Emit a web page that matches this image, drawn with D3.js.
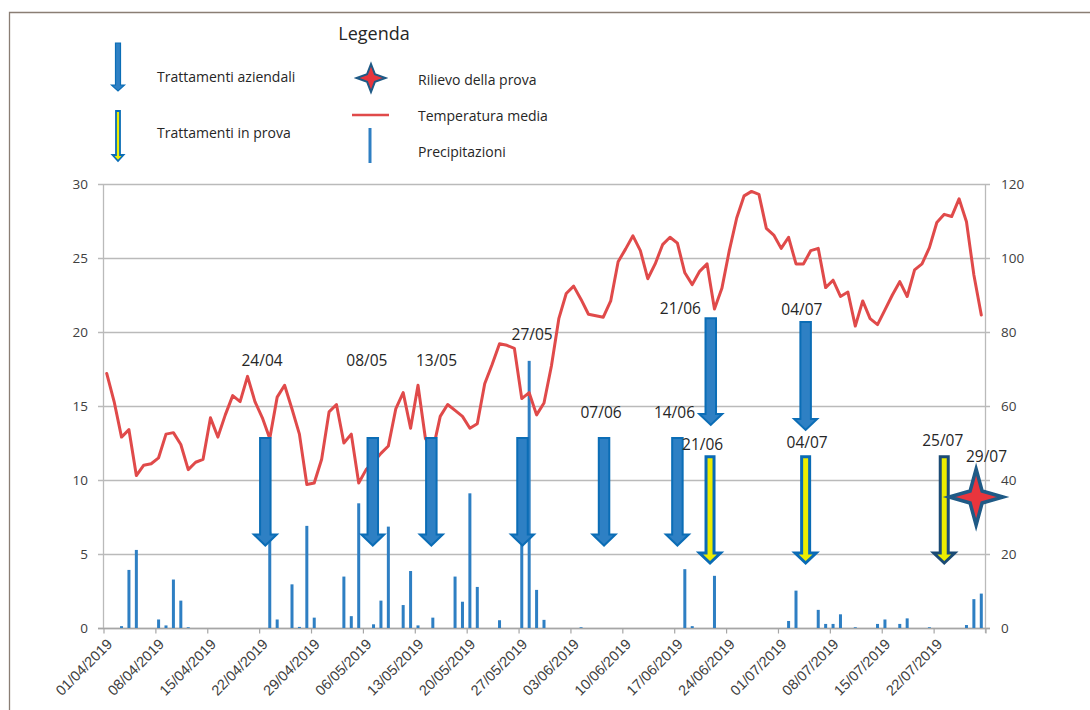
<!DOCTYPE html>
<html><head><meta charset="utf-8">
<script src="https://cdn.jsdelivr.net/npm/d3@7"></script>
<style>
html,body{margin:0;padding:0;background:#fff;}
svg{display:block;font-family:"Open Sans",sans-serif;}
</style></head><body>
<svg id="chart" width="1090" height="710"></svg>
<script>
// ---------------- DATA ----------------
const startDay = "01/04/2019";
const endDay = "29/07/2019";
// daily mean temperature (°C), 01/04 .. 28/07
const temperature = [
 17.2,15.3,12.9,13.4,10.3,11.0,11.1,11.5,13.1,13.2,
 12.4,10.7,11.2,11.4,14.2,12.9,14.4,15.7,15.3,17.0,
 15.3,14.2,12.8,15.6,16.4,14.8,13.1,9.7,9.8,11.4,
 14.6,15.1,12.5,13.1,9.8,10.7,11.2,11.8,12.3,14.8,
 15.9,13.5,16.4,12.8,12.0,14.3,15.1,14.7,14.3,13.5,
 13.8,16.5,17.8,19.2,19.1,18.9,15.5,15.9,14.4,15.2,
 17.7,20.9,22.6,23.1,22.2,21.2,21.1,21.0,22.1,24.75,
 25.6,26.5,25.5,23.6,24.6,25.9,26.4,26.0,24.0,23.2,
 24.1,24.6,21.55,22.95,25.5,27.7,29.2,29.5,29.3,27.0,
 26.55,25.65,26.4,24.6,24.6,25.5,25.65,23.0,23.5,22.4,
 22.7,20.4,22.1,20.9,20.5,21.5,22.5,23.4,22.4,24.2,
 24.6,25.7,27.4,27.95,27.8,29.0,27.45,23.85,21.15
];
// daily precipitation (mm), 01/04 .. 28/07
const precipitation = [
 0,0,0.5,15.7,21.1,0,0,2.3,0.7,13.1,
 7.4,0.2,0,0,0,0,0,0,0,0,
 0,0,26,2.3,0,11.8,0.3,27.6,2.8,0,
 0,0,13.9,3.2,33.7,0,1.0,7.4,27.4,0,
 6.2,15.4,0.7,0,2.8,0,0,13.9,7.1,36.4,
 11.1,0,0,2.1,0,0,28,72.2,10.3,2.2,
 0,0,0,0,0.2,0,0,0,0,0,
 0,0,0,0,0,0,0,0,15.9,0.5,
 0,0,14.1,0,0,0,0,0,0,0,
 0,0,1.9,10.1,0,0,4.9,1.1,1.1,3.7,
 0,0.2,0,0,1.1,2.3,0,1.1,2.6,0,
 0,0.2,0,0,0,0,0.8,7.8,9.3
];
const xTickLabels = ["01/04/2019","08/04/2019","15/04/2019","22/04/2019","29/04/2019",
 "06/05/2019","13/05/2019","20/05/2019","27/05/2019","03/06/2019","10/06/2019",
 "17/06/2019","24/06/2019","01/07/2019","08/07/2019","15/07/2019","22/07/2019"];
const tempTicks = [0,5,10,15,20,25,30];
const rainTicks = [0,20,40,60,80,100,120];
const farmTreatments = ["24/04","08/05","13/05","27/05","07/06","14/06","21/06","04/07"];
const trialTreatments = ["21/06","04/07","25/07"];
const surveyDates = ["29/07"];
const legendTitle = "Legenda";
const legendLabels = ["Trattamenti aziendali","Trattamenti in prova","Rilievo della prova","Temperatura media","Precipitazioni"];

// -------------- LAYOUT (axis units: day offset, °C) --------------
const farmLayout = [
 {u:21.9, top:12.84, tip:5.57, lu:21.46, lt:18.04},
 {u:36.4, top:12.84, tip:5.57, lu:35.6,  lt:18.04},
 {u:44.3, top:12.84, tip:5.57, lu:45.0,  lt:18.04},
 {u:56.6, top:12.84, tip:5.57, lu:57.9,  lt:19.8},
 {u:67.6, top:12.84, tip:5.57, lu:67.2,  lt:14.55},
 {u:77.5, top:12.84, tip:5.57, lu:77.1,  lt:14.55},
 {u:82.0, top:20.93, tip:13.72, lu:77.9, lt:21.6},
 {u:94.8, top:20.68, tip:13.38, lu:94.3, lt:21.5}
];
const trialLayout = [
 {u:81.9, top:11.57, tip:4.39, lu:80.9, lt:12.4, stroke:"#0a6bb5"},
 {u:94.8, top:11.57, tip:4.39, lu:95.0, lt:12.5, stroke:"#0a6bb5"},
 {u:113.5, top:11.57, tip:4.39, lu:113.3, lt:12.65, stroke:"#1b4b75"}
];
const surveyLayout = [{u:117.8, t:8.85, lu:119.2, lt:11.6}];

// ---------------- DRAW ----------------
const svg = d3.select("#chart");
const parse = d3.timeParse("%d/%m/%Y");
const t0 = parse(startDay), t1 = parse(endDay);
const nDays = d3.timeDay.count(t0, t1);
const dates = d3.range(temperature.length).map(i => d3.timeDay.offset(t0, i));

const L = 103, R = 985, T = 184, B = 628;
const x = d3.scaleTime().domain([t0, t1]).range([L, R]);
const xu = d3.scaleLinear().domain([0, nDays]).range([L, R]);
const yT = d3.scaleLinear().domain([0, 30]).range([B, T]);
const yP = d3.scaleLinear().domain([0, 120]).range([B, T]);
const dayW = xu(1) - xu(0);
const mid = d => x(d) + dayW / 2;

// frame
svg.append("path").attr("d", `M9.5,711 V12.5 H1091`).attr("fill","none")
  .attr("stroke","#8a7e74").attr("stroke-width",1.3);

// gridlines
svg.append("g").selectAll("line").data(tempTicks).join("line")
  .attr("x1", L - 5).attr("x2", R + 5)
  .attr("y1", d => yT(d) + 0.5).attr("y2", d => yT(d) + 0.5)
  .attr("stroke", "#bababa").attr("stroke-width", 1.3);

// axes lines
svg.append("line").attr("x1", L + 0.5).attr("x2", L + 0.5).attr("y1", T).attr("y2", B)
  .attr("stroke", "#bababa").attr("stroke-width", 1.3);
svg.append("line").attr("x1", R + 0.5).attr("x2", R + 0.5).attr("y1", T).attr("y2", B + 5)
  .attr("stroke", "#bababa").attr("stroke-width", 1.3);
svg.append("line").attr("x1", L - 5).attr("x2", R + 5).attr("y1", B + 0.5).attr("y2", B + 0.5)
  .attr("stroke", "#a6a6a6").attr("stroke-width", 1.3);

// axes via d3
const xTicks = xTickLabels.map(parse);
const xAxis = svg.append("g").attr("transform", `translate(0,${B + 0.5})`)
  .call(d3.axisBottom(x).tickValues(xTicks.concat([t1])).tickSize(5).tickFormat(d => {
    const i = xTicks.findIndex(t => +t === +d);
    return i >= 0 ? xTickLabels[i] : "";
  }));
xAxis.select(".domain").remove();
xAxis.selectAll(".tick line").attr("stroke", "#a6a6a6").attr("stroke-width", 1.2).attr("transform","translate(0.5,0)");
xAxis.selectAll(".tick text")
  .attr("font-size", 14.5).attr("fill", "#404040")
  .attr("text-anchor", "end").attr("dy", "0.35em")
  .attr("transform", "translate(6,13) rotate(-45)").attr("y", 0).attr("x", 0);

const yAxisL = svg.append("g").attr("transform", `translate(${L},0.5)`)
  .call(d3.axisLeft(yT).tickValues(tempTicks).tickSize(0).tickPadding(15));
yAxisL.select(".domain").remove();
yAxisL.selectAll("text").attr("font-size", 13.5).attr("fill", "#404040").attr("font-family", "Open Sans");

const yAxisR = svg.append("g").attr("transform", `translate(${R},0.5)`)
  .call(d3.axisRight(yP).tickValues(rainTicks).tickSize(0).tickPadding(16));
yAxisR.select(".domain").remove();
yAxisR.selectAll("text").attr("font-size", 13.5).attr("fill", "#404040").attr("font-family", "Open Sans");

// precipitation bars
const barW = 3;
svg.append("g").selectAll("rect").data(precipitation.map((p, i) => ({p, d: dates[i]})).filter(o => o.p > 0))
  .join("rect")
  .attr("x", o => mid(o.d) - barW / 2).attr("width", barW)
  .attr("y", o => yP(o.p)).attr("height", o => B - yP(o.p))
  .attr("fill", "#2e7fc3");

// temperature line
const line = d3.line().x((v, i) => mid(dates[i])).y(v => yT(v));
svg.append("path").datum(temperature).attr("d", line)
  .attr("fill", "none").attr("stroke", "#e04a4a").attr("stroke-width", 3)
  .attr("stroke-linejoin", "round").attr("stroke-linecap", "round");

// arrow helper
function arrowPath(cx, top, tip, sw, hw, hh) {
  const p = d3.path();
  p.moveTo(cx - sw / 2, top); p.lineTo(cx + sw / 2, top);
  p.lineTo(cx + sw / 2, tip - hh); p.lineTo(cx + hw / 2, tip - hh);
  p.lineTo(cx, tip); p.lineTo(cx - hw / 2, tip - hh);
  p.lineTo(cx - sw / 2, tip - hh); p.closePath();
  return p.toString();
}
function starPath(cx, cy, rx, ry, ri) {
  const p = d3.path();
  const pts = [];
  for (let k = 0; k < 8; k++) {
    const a = -Math.PI / 2 + k * Math.PI / 4;
    const outer = k % 2 === 0;
    const rX = outer ? rx : ri, rY = outer ? ry : ri;
    pts.push([cx + rX * Math.cos(a), cy + rY * Math.sin(a)]);
  }
  pts.forEach((q, i) => i ? p.lineTo(q[0], q[1]) : p.moveTo(q[0], q[1]));
  p.closePath();
  return p.toString();
}

const lbl = (g, text, xx, yy, fs) => g.append("text").attr("x", xx).attr("y", yy)
  .attr("text-anchor", "middle").attr("dy", "0.35em").attr("font-size", fs)
  .attr("fill", "#262626").text(text);

// farm treatments
const gA = svg.append("g");
farmTreatments.forEach((name, i) => {
  const a = farmLayout[i];
  gA.append("path").attr("d", arrowPath(xu(a.u), yT(a.top), yT(a.tip), 10.5, 23, 11))
    .attr("fill", "#2e80c4").attr("stroke", "#0b6db6").attr("stroke-width", 2)
    .attr("stroke-linejoin", "miter");
  lbl(gA, name, xu(a.lu), yT(a.lt), 15.5);
});
// trial treatments
trialTreatments.forEach((name, i) => {
  const a = trialLayout[i];
  gA.append("path").attr("d", arrowPath(xu(a.u), yT(a.top), yT(a.tip), 8, 21, 10))
    .attr("fill", "#eded00").attr("stroke", a.stroke).attr("stroke-width", 3)
    .attr("stroke-linejoin", "miter");
  lbl(gA, name, xu(a.lu), yT(a.lt), 15.5);
});
// survey
surveyDates.forEach((name, i) => {
  const s = surveyLayout[i];
  gA.append("path").attr("d", starPath(xu(s.u), yT(s.t), 27, 28, 8.5))
    .attr("fill", "#e8353d").attr("stroke", "#1f5a86").attr("stroke-width", 3.5)
    .attr("stroke-linejoin", "miter").attr("stroke-miterlimit", 10);
  lbl(gA, name, xu(s.lu), yT(s.lt), 15.5);
});

// legend
const lg = svg.append("g");
lg.append("text").attr("x", 374).attr("y", 34).attr("dy", "0.35em").attr("text-anchor", "middle")
  .attr("font-size", 18).attr("fill", "#262626").text(legendTitle);
lg.append("path").attr("d", arrowPath(118, 43, 91, 5, 13, 6))
  .attr("fill", "#2e80c4").attr("stroke", "#0b6db6").attr("stroke-width", 1.2);
lg.append("path").attr("d", arrowPath(118, 111, 161, 4, 11, 6))
  .attr("fill", "#eded00").attr("stroke", "#0b6db6").attr("stroke-width", 1.8);
lg.append("path").attr("d", starPath(371, 78, 14.5, 14, 5.5))
  .attr("fill", "#e8353d").attr("stroke", "#1f5a86").attr("stroke-width", 2)
  .attr("stroke-miterlimit", 10);
lg.append("line").attr("x1", 352).attr("x2", 389).attr("y1", 115).attr("y2", 115)
  .attr("stroke", "#e04a4a").attr("stroke-width", 2.5);
lg.append("line").attr("x1", 370).attr("x2", 370).attr("y1", 128).attr("y2", 163)
  .attr("stroke", "#2e7fc3").attr("stroke-width", 3);
const legPos = [[157, 77], [157, 133], [418, 80], [418, 116], [418, 152]];
legendLabels.forEach((t, i) => {
  lg.append("text").attr("x", legPos[i][0]).attr("y", legPos[i][1]).attr("dy", "0.35em")
    .attr("font-size", 14).attr("fill", "#262626").text(t);
});
</script>
</body></html>
